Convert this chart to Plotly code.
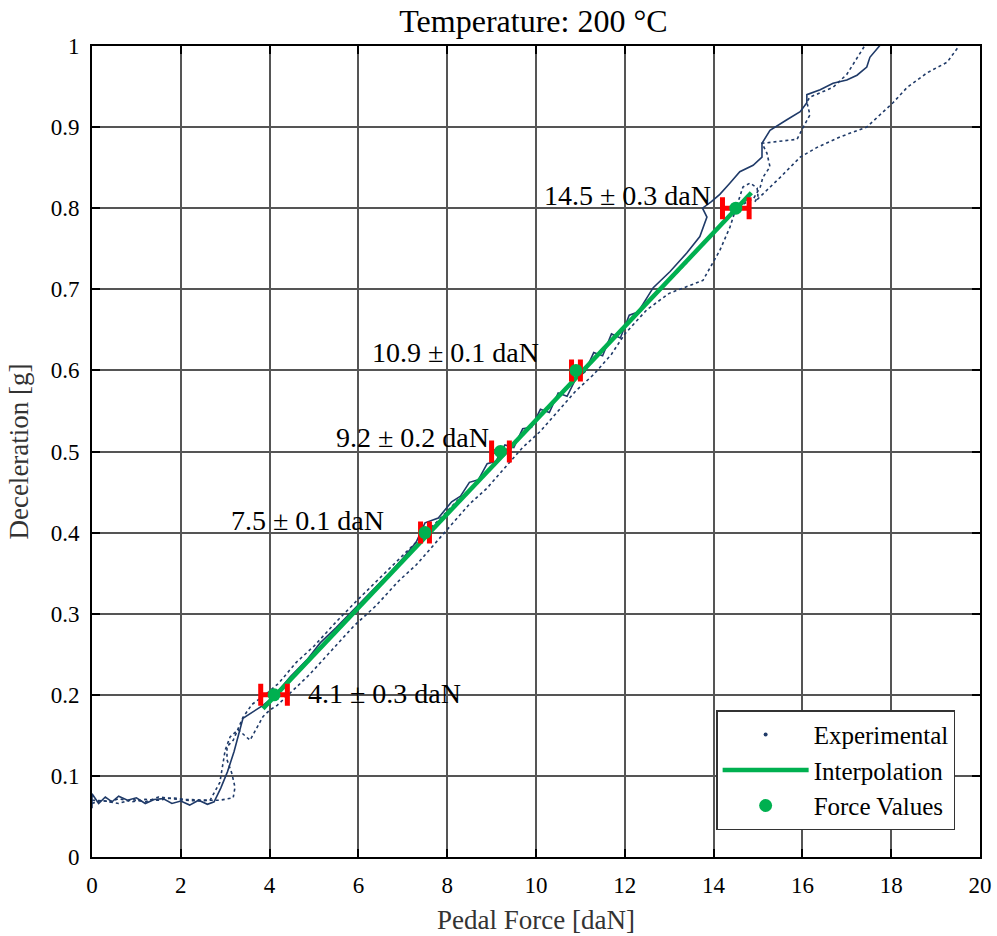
import plotly.graph_objects as go

# --- Experimental runs (pedal force [daN] vs deceleration [g]) ---
run1_force = [0.0, 0.0, 0.15, 0.3, 0.45, 0.6, 0.8, 1.0, 1.2, 1.4, 1.6, 1.8, 2.0, 2.2, 2.4, 2.6, 2.75,
              2.9, 3.05, 3.2, 3.4, 3.63, 3.85, 4.08, 4.46, 4.84, 5.14, 5.5, 5.9, 6.3, 6.7, 7.0, 7.3,
              7.5, 7.8, 8.1, 8.3, 8.5, 8.7, 8.9, 9.1, 9.3, 9.5, 9.7, 9.9, 10.1, 10.3, 10.5, 10.7,
              10.9, 11.1, 11.3, 11.5, 11.7, 11.9, 12.1, 12.3, 12.64, 13.02, 13.4, 13.69, 13.85,
              13.75, 13.95, 14.14, 14.37, 14.59, 14.89, 15.09, 15.09, 15.27, 15.65, 15.95, 16.1,
              16.1, 16.4, 16.69, 17.0, 17.23, 17.45, 17.52, 17.75]
run1_decel = [0.060, 0.078, 0.066, 0.074, 0.068, 0.075, 0.070, 0.073, 0.066, 0.071, 0.072, 0.066,
              0.069, 0.064, 0.070, 0.065, 0.068, 0.085, 0.105, 0.130, 0.171, 0.179, 0.187, 0.197,
              0.222, 0.243, 0.264, 0.283, 0.305, 0.328, 0.350, 0.368, 0.388, 0.412, 0.418, 0.438,
              0.445, 0.462, 0.465, 0.485, 0.488, 0.508, 0.505, 0.528, 0.530, 0.552, 0.548, 0.572,
              0.568, 0.590, 0.598, 0.622, 0.618, 0.645, 0.640, 0.668, 0.672, 0.702, 0.722, 0.745,
              0.765, 0.789, 0.800, 0.808, 0.817, 0.831, 0.845, 0.853, 0.863, 0.880, 0.896, 0.909,
              0.919, 0.930, 0.940, 0.946, 0.954, 0.958, 0.964, 0.974, 0.986, 1.001]

run2_force = [0.0, 0.2, 0.4, 0.6, 0.9, 1.2, 1.5, 1.8, 2.1, 2.4, 2.66, 2.88, 3.18, 3.22, 3.15, 3.04,
              3.04, 3.18, 3.4, 3.6, 3.9, 4.2, 4.6, 5.0, 5.5, 6.0, 6.5, 7.0, 7.4, 7.8, 8.2, 8.6, 9.0,
              9.4, 9.8, 10.2, 10.6, 11.0, 11.4, 11.8, 12.2, 12.6, 13.0, 13.4, 13.8, 14.2, 14.6,
              14.9, 15.05, 15.11, 15.27, 15.2, 15.09, 15.88, 16.01, 16.17, 16.1, 16.17, 16.69,
              17.0, 17.4]
run2_decel = [0.066, 0.070, 0.068, 0.072, 0.068, 0.071, 0.070, 0.073, 0.071, 0.070, 0.070, 0.070,
              0.073, 0.086, 0.103, 0.120, 0.136, 0.144, 0.172, 0.188, 0.200, 0.214, 0.240, 0.260,
              0.290, 0.318, 0.345, 0.372, 0.393, 0.415, 0.438, 0.458, 0.480, 0.503, 0.528, 0.550,
              0.573, 0.598, 0.620, 0.642, 0.664, 0.688, 0.710, 0.733, 0.758, 0.783, 0.803, 0.812,
              0.826, 0.838, 0.851, 0.868, 0.880, 0.885, 0.899, 0.915, 0.931, 0.937, 0.949, 0.965,
              1.000]

run3_force = [0.0, 0.3, 0.6, 0.9, 1.2, 1.5, 1.8, 2.1, 2.4, 2.66, 2.88, 3.0, 3.11, 3.29, 3.56,
              3.72, 3.85, 4.0, 4.17, 4.46, 4.9, 5.4, 5.9, 6.4, 6.9, 7.3, 7.7, 8.1, 8.5, 8.9, 9.3,
              9.7, 10.1, 10.5, 10.9, 11.3, 11.7, 12.0, 12.5, 13.0, 13.5, 13.76, 14.14, 14.37,
              14.66, 14.82, 14.98, 15.0, 14.93, 15.5, 15.95, 16.33, 16.85, 17.45, 18.04, 18.36,
              18.81, 19.26, 19.5]
run3_decel = [0.070, 0.069, 0.066, 0.071, 0.068, 0.074, 0.072, 0.070, 0.069, 0.070, 0.092, 0.132,
              0.148, 0.157, 0.144, 0.159, 0.173, 0.181, 0.187, 0.202, 0.225, 0.255, 0.285, 0.310,
              0.340, 0.360, 0.385, 0.410, 0.435, 0.455, 0.480, 0.505, 0.525, 0.550, 0.575, 0.595,
              0.620, 0.645, 0.675, 0.695, 0.705, 0.711, 0.748, 0.777, 0.826, 0.831, 0.825, 0.814,
              0.808, 0.838, 0.863, 0.875, 0.888, 0.900, 0.930, 0.949, 0.967, 0.980, 0.998]

# --- Linear interpolation ---
interp_force = [3.85, 14.85]
interp_decel = [0.183, 0.819]

# --- Force values at target decelerations ---
target_decel = [0.2, 0.4, 0.5, 0.6, 0.8]
force_mean = [4.1, 7.5, 9.2, 10.9, 14.5]
force_err = [0.3, 0.1, 0.2, 0.1, 0.3]

NAVY = "#1F3A68"
GREEN = "#00B050"
RED = "#FF0000"
FONT = "Liberation Serif"

fig = go.Figure()

for fx, dy, dash in [(run3_force, run3_decel, "dot"),
                     (run2_force, run2_decel, "dot"),
                     (run1_force, run1_decel, "solid")]:
    fig.add_trace(go.Scatter(x=fx, y=dy, mode="lines", showlegend=False,
                             line=dict(color=NAVY, width=1.6, dash=dash),
                             hoverinfo="skip"))

# legend entry for the experimental samples
fig.add_trace(go.Scatter(x=[None], y=[None], mode="markers", name="Experimental",
                         marker=dict(color=NAVY, size=4)))

fig.add_trace(go.Scatter(x=interp_force, y=interp_decel, mode="lines", name="Interpolation",
                         line=dict(color=GREEN, width=4.5)))

fig.add_trace(go.Scatter(x=force_mean, y=target_decel, mode="markers", name="Force Values",
                         marker=dict(color=GREEN, size=13),
                         error_x=dict(type="data", array=force_err, color=RED,
                                      thickness=5, width=11)))

labels = [f"{m} \u00b1 {e} daN" for m, e in zip(force_mean, force_err)]
label_pos = [(4.82, 0.202, "left"), (6.62, 0.415, "right"), (8.99, 0.517, "right"),
             (10.11, 0.622, "right"), (13.99, 0.816, "right")]
for text, (lx, ly, side) in zip(labels, label_pos):
    fig.add_annotation(x=lx, y=ly, text=text, showarrow=False, xanchor=side,
                       yanchor="middle", font=dict(family=FONT, size=28, color="black"))

axis_common = dict(showline=True, linecolor="black", linewidth=2, mirror="ticks",
                   ticks="inside", ticklen=8, tickwidth=2, tickcolor="black",
                   showgrid=True, gridcolor="#555555", gridwidth=1.5, zeroline=False,
                   ticklabelstandoff=6, automargin=False,
                   tickfont=dict(family=FONT, size=23, color="black"),
                   title_font=dict(family=FONT, size=27, color="#333333"))

fig.update_xaxes(range=[0, 20], dtick=2, title_text="Pedal Force [daN]",
                 title_standoff=14, **axis_common)
fig.update_yaxes(range=[0, 1], dtick=0.1, tickformat=".1~f", title_text="Deceleration [g]",
                 title_standoff=14, **axis_common)

fig.update_layout(
    width=997, height=936,
    margin=dict(l=92, r=17, t=46, b=79, autoexpand=False),
    paper_bgcolor="white", plot_bgcolor="white",
    title=dict(text="Temperature: 200 \u00b0C", x=0.535, xanchor="center", y=0.978,
               yanchor="middle", font=dict(family=FONT, size=32, color="black")),
    legend=dict(x=0.972, y=0.033, xanchor="right", yanchor="bottom",
                bgcolor="white", bordercolor="#333333", borderwidth=1.5,
                font=dict(family=FONT, size=25, color="black"),
                itemwidth=86, tracegroupgap=0),
    showlegend=True,
)

fig.write_html("out.html")
